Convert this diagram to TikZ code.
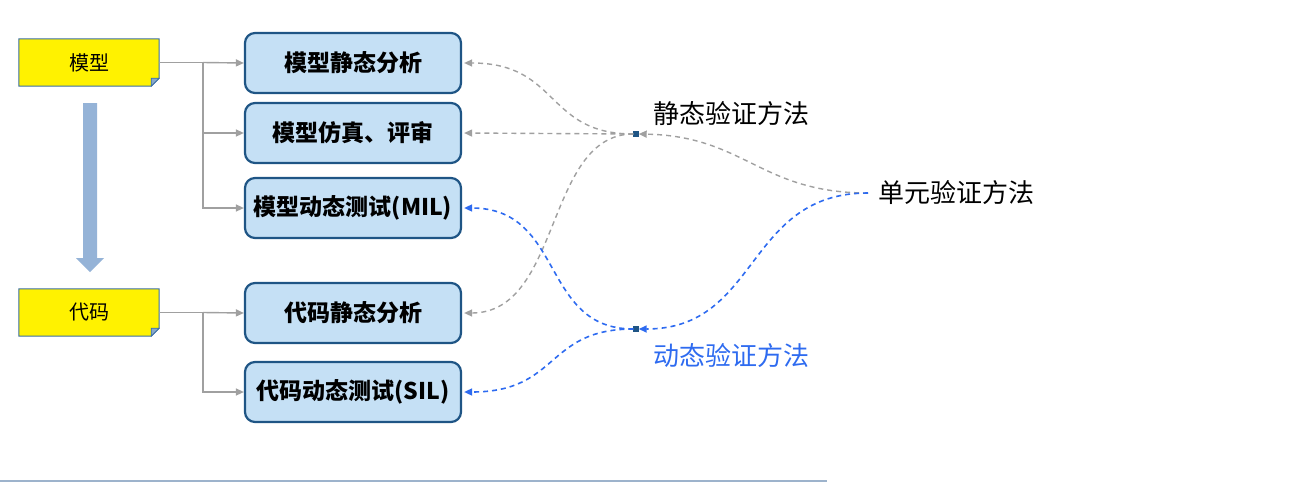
\documentclass[tikz,border=0pt]{standalone}
\usepackage{fontspec}
\setmainfont{Noto Sans CJK SC}
\usetikzlibrary{arrows.meta}
\definecolor{boxfill}{HTML}{C5E0F5}
\definecolor{boxline}{HTML}{1F5585}
\definecolor{noteline}{HTML}{3A6EA5}
\definecolor{conngray}{HTML}{A0A0A0}
\definecolor{dashblue}{HTML}{2E6BF0}
\definecolor{bigarrow}{HTML}{95B3D7}
\definecolor{baseclr}{HTML}{9DB3CC}
\tikzset{
  stepbox/.style={draw=boxline, fill=boxfill, line width=2.2pt, rounded corners=10pt,
    minimum width=216pt, minimum height=60pt, inner sep=0pt,
    font=\fontsize{23}{27}\selectfont\bfseries},
  notebox/.style={minimum width=140pt, minimum height=47pt, inner sep=0pt,
    font=\fontsize{20}{24}\selectfont},
  conn/.style={draw=conngray, line width=1.4pt, -{Triangle[length=8pt,width=7pt]}},
  gdash/.style={draw=conngray, line width=1.4pt, dashed, dash pattern=on 5pt off 4pt,
    -{Triangle[length=8pt,width=7pt]}},
  bdash/.style={draw=dashblue, line width=1.6pt, dash pattern=on 5pt off 4pt,
    -{Triangle[length=8pt,width=7pt]}},
  junc/.style={draw=boxline, fill=boxline, minimum size=5pt, inner sep=0pt},
  method/.style={anchor=west, inner sep=0pt, font=\fontsize{26}{30}\selectfont},
}
\begin{document}
\begin{tikzpicture}[x=1pt,y=-1pt]
\useasboundingbox (0,0) rectangle (1302,483);
% yellow notes
\node[notebox] (m) at (89,62.5) {};
\node[notebox] (c) at (89,312.5) {};
\foreach \n in {m,c}{
  \fill[yellow, draw=noteline, line width=1pt]
    (\n.north west) -- (\n.north east) -- ([yshift=8pt]\n.south east)
    -- ([xshift=-8pt]\n.south east) -- (\n.south west) -- cycle;
  \fill[noteline!60, draw=noteline, line width=0.6pt]
    ([yshift=8pt]\n.south east) -- ([xshift=-8pt,yshift=8pt]\n.south east)
    -- ([xshift=-8pt]\n.south east) -- cycle;
}
\node[notebox] (mt) at (m) {模型};
\node[notebox] (ct) at (c) {代码};
% big down arrow
\fill[bigarrow] (83,103) -- (97,103) -- (97,258) -- (104,258) -- (90,272)
  -- (76,258) -- (83,258) -- cycle;
% step boxes
\node[stepbox] (ms) at (353,63) {模型静态分析};
\node[stepbox] (mf) at (353,133) {模型仿真、评审};
\node[stepbox] (mil) at (353,208) {模型动态测试(MIL)};
\node[stepbox] (cs) at (353,313) {代码静态分析};
\node[stepbox] (sil) at (353,392) {代码动态测试(SIL)};
% tree connectors
\coordinate (mb) at (203,62.5);
\coordinate (cb) at (203,312.5);
\draw[draw=conngray, line width=1.4pt] (m.east) -- (mb);
\draw[draw=conngray, line width=1.4pt] (c.east) -- (cb);
\draw[conn] (mb) -- (ms.west);
\draw[conn] (mb) |- (mf.west);
\draw[conn] (mb) |- (mil.west);
\draw[conn] (cb) -- (cs.west);
\draw[conn] (cb) |- (sil.west);
% junctions and labels
\node[junc] (j1) at (636,134) {};
\node[junc] (j2) at (636,329) {};
\node[method] (st) at (653,114) {静态验证方法};
\node[method, text=dashblue] (dy) at (653,356) {动态验证方法};
\node[method] (u) at (878,193) {单元验证方法};
\coordinate (us) at (868,193);
% dashed curves
\draw[gdash] (us) .. controls (760,193) and (745,136) .. (j1.east);
\draw[bdash] (us) .. controls (745,193) and (760,329) .. (j2.east);
\draw[gdash] (j1.west) .. controls (545,134) and (560,63) .. ([xshift=2pt]ms.east);
\draw[gdash] (j1.west) -- ([xshift=2pt]mf.east);
\draw[gdash] (j1.west) .. controls (545,134) and (562,313) .. ([xshift=2pt]cs.east);
\draw[bdash] (j2.west) .. controls (540,329) and (565,208) .. ([xshift=2pt]mil.east);
\draw[bdash] (j2.west) .. controls (545,329) and (560,392) .. ([xshift=2pt]sil.east);
% bottom line
\draw[draw=baseclr, line width=2pt] (0,481) -- (827,481);
\end{tikzpicture}
\end{document}
